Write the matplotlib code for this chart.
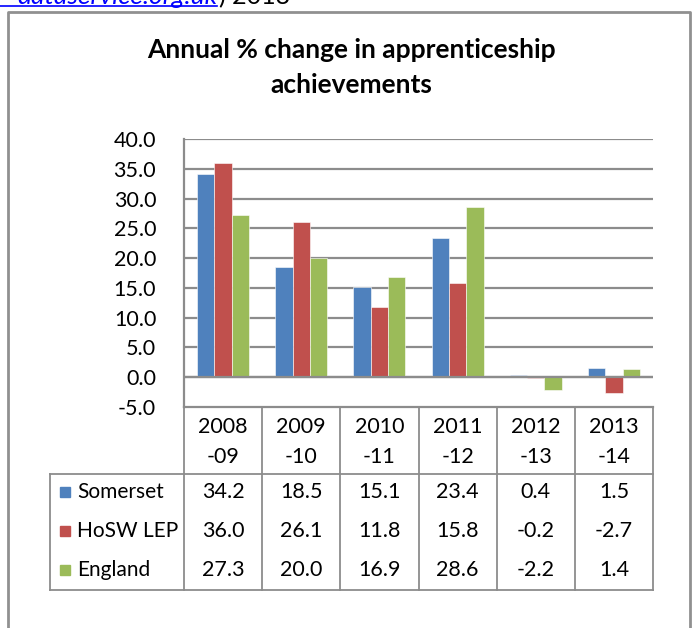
import matplotlib
matplotlib.use("Agg")
import matplotlib.pyplot as plt
import numpy as np

plt.rcParams['font.family'] = ['Lato', 'DejaVu Sans']

# data
periods = ["2008\n-09", "2009\n-10", "2010\n-11", "2011\n-12", "2012\n-13", "2013\n-14"]
series_names = ["Somerset", "HoSW LEP", "England"]
somerset = [34.2, 18.5, 15.1, 23.4, 0.4, 1.5]
hosw_lep = [36.0, 26.1, 11.8, 15.8, -0.2, -2.7]
england = [27.3, 20.0, 16.9, 28.6, -2.2, 1.4]
colors = ["#4F81BD", "#C0504D", "#9BBB59"]
yticks = np.arange(-5, 41, 5)

W, H = 697, 628
fig = plt.figure(figsize=(W / 100, H / 100), dpi=100)

# canvas in pixel coords for frame, title and the data table
cv = fig.add_axes([0, 0, 1, 1])
cv.set_xlim(0, W)
cv.set_ylim(H, 0)
cv.axis("off")

grey = "#8C8C8C"
fs = 15

# chart frame
cv.plot([8, 8, 690, 690], [H + 5, 12, 12, H + 5], color="#909090", lw=2, zorder=1)

# cut-off source line at the very top
cv.text(217, 4, "dataservice.org.uk", ha="right", va="baseline", fontsize=19,
        style="italic", color="#0000FF")
cv.plot([-2, 217], [6, 6], color="#0000FF", lw=1.2)
cv.text(219, 4, ") 2013", ha="left", va="baseline", fontsize=18, color="black")

# title
cv.text(351, 50, "Annual % change in apprenticeship", ha="center", va="center",
        fontsize=19, fontweight="bold")
cv.text(351, 85, "achievements", ha="center", va="center",
        fontsize=19, fontweight="bold")

# plot area
x0, x1, ytop, ybot = 184, 653, 139, 407
ax = fig.add_axes([x0 / W, 1 - ybot / H, (x1 - x0) / W, (ybot - ytop) / H])
n = len(periods)
x = np.arange(n) + 0.5
bw = 0.222
for k, vals in enumerate([somerset, hosw_lep, england]):
    ax.bar(x + (k - 1) * bw, vals, width=bw, color=colors[k],
           edgecolor="white", linewidth=0.4, zorder=3)
ax.set_xlim(0, n)
ax.set_ylim(-5, 40)
ax.set_yticks(yticks)
ax.set_yticklabels([f"{v:.1f}" for v in yticks], fontsize=fs + 0.5)
ax.tick_params(axis="y", length=0, pad=20)
ax.set_xticks([])
ax.grid(axis="y", color=grey, lw=1.6, zorder=0)
ax.axhline(0, color=grey, lw=1.6, zorder=4)
for s in ["top", "right", "bottom"]:
    ax.spines[s].set_visible(False)
ax.spines["left"].set_color(grey)
ax.spines["left"].set_linewidth(1.6)

# data table
cw = (x1 - x0) / n
cols = [x0 + i * cw for i in range(n + 1)]
hdr_bot = 474
tbl_bot = 590
tleft = 50
lw = 1.3
cv.plot([x0, x1], [ybot, ybot], color=grey, lw=1.6)
for cx in cols:
    cv.plot([cx, cx], [ybot, tbl_bot], color=grey, lw=lw)
cv.plot([tleft, x1], [hdr_bot, hdr_bot], color=grey, lw=lw)
cv.plot([tleft, x1], [tbl_bot, tbl_bot], color=grey, lw=lw)
cv.plot([tleft, tleft], [hdr_bot, tbl_bot], color=grey, lw=lw)

for i, lab in enumerate(periods):
    top, bot = lab.split("\n")
    cx = (cols[i] + cols[i + 1]) / 2
    cv.text(cx, 427, top, ha="center", va="center", fontsize=fs + 0.5)
    cv.text(cx, 457, bot, ha="center", va="center", fontsize=fs + 0.5)

row_y = [492, 531, 570]
for r, vals in enumerate([somerset, hosw_lep, england]):
    cv.add_patch(plt.Rectangle((60, row_y[r] - 5), 10, 10, color=colors[r]))
    cv.text(77, row_y[r], series_names[r], ha="left", va="center", fontsize=fs)
    for i, v in enumerate(vals):
        cx = (cols[i] + cols[i + 1]) / 2
        cv.text(cx, row_y[r], f"{v:.1f}", ha="center", va="center", fontsize=fs + 0.5)

fig.savefig("out.png", dpi=100)
